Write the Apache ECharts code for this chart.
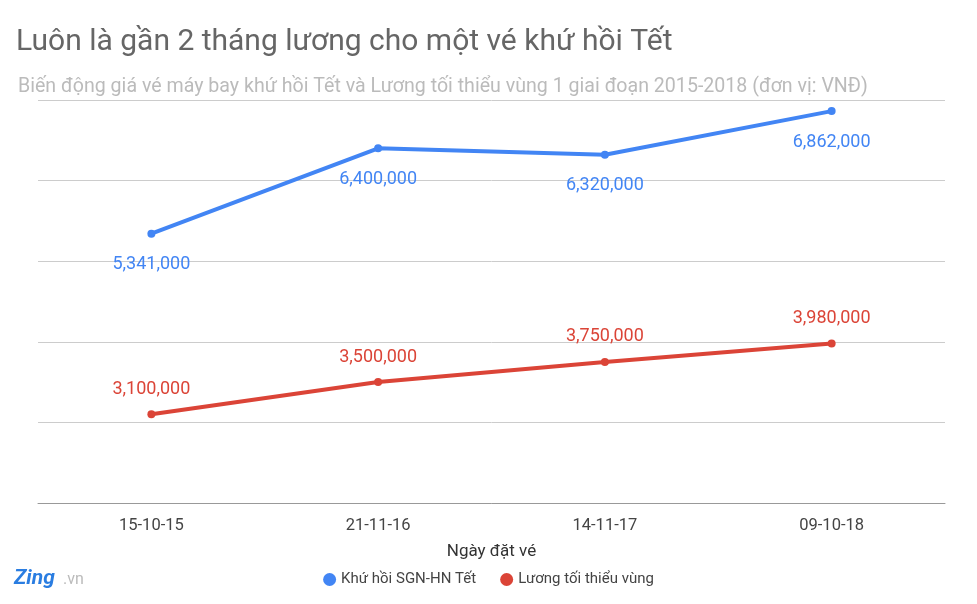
<!DOCTYPE html>
<html><head><meta charset="utf-8">
<script src="https://cdn.jsdelivr.net/npm/echarts@6/dist/echarts.min.js"></script>
<style>html,body{margin:0;padding:0;background:#fff}#c{width:977px;height:604px}</style>
</head><body><div id="c"></div>
<script>
var categories = ['15-10-15', '21-11-16', '14-11-17', '09-10-18'];
var ticketPrices = [5341000, 6400000, 6320000, 6862000];
var minWages = [3100000, 3500000, 3750000, 3980000];
var seriesNames = ['Khứ hồi SGN-HN Tết', 'Lương tối thiểu vùng'];

function fmt(v) { return String(v).replace(/\B(?=(\d{3})+(?!\d))/g, ','); }

var chart = echarts.init(document.getElementById('c'));
chart.setOption({
  title: [
    { text: 'Luôn là gần 2 tháng lương cho một vé khứ hồi Tết', left: 11, top: 22,
      textStyle: { fontFamily: 'Roboto', fontSize: 30, fontWeight: 'normal', color: '#666' } },
    { text: 'Biến động giá vé máy bay khứ hồi Tết và Lương tối thiểu vùng 1 giai đoạn 2015-2018 (đơn vị: VNĐ)', left: 13, top: 72,
      textStyle: { fontFamily: 'Roboto', fontSize: 19.6, fontWeight: 'normal', color: '#bbb' } }
  ],
  graphic: [
    { type: 'text', left: 14, top: 568, style: { text: 'Zing', fill: '#2a7de1', font: 'bold italic 21px Roboto' } },
    { type: 'text', left: 63, top: 572, style: { text: '.vn', fill: '#bbb', font: '16px Roboto' } }
  ],
  legend: {
    bottom: 12, left: 'center', itemWidth: 13, itemHeight: 13, icon: 'circle', itemGap: 24,
    textStyle: { fontFamily: 'Roboto', fontSize: 15, color: '#444' },
    data: seriesNames
  },
  grid: { left: 38, right: 32, top: 100, bottom: 101 },
  xAxis: {
    type: 'category', data: categories, name: 'Ngày đặt vé', nameLocation: 'middle', nameGap: 40,
    nameTextStyle: { fontFamily: 'Roboto', fontSize: 17, color: '#333' },
    axisTick: { show: false }, axisLine: { lineStyle: { color: '#999' } },
    axisLabel: { fontFamily: 'Roboto', fontSize: 16.5, color: '#444', margin: 14 }
  },
  yAxis: {
    type: 'value', min: 2000000, max: 7000000, interval: 1000000,
    axisLabel: { show: false }, splitLine: { lineStyle: { color: '#ccc' } }
  },
  series: [
    { name: seriesNames[0], type: 'line', data: ticketPrices, color: '#4285f4', symbol: 'circle', symbolSize: 8,
      lineStyle: { width: 4 },
      label: { show: true, position: 'bottom', distance: 18, formatter: function (p) { return fmt(p.value); },
        fontFamily: 'Roboto', fontSize: 18, color: '#4285f4' } },
    { name: seriesNames[1], type: 'line', data: minWages, color: '#db4437', symbol: 'circle', symbolSize: 8,
      lineStyle: { width: 4 },
      label: { show: true, position: 'top', distance: 12, formatter: function (p) { return fmt(p.value); },
        fontFamily: 'Roboto', fontSize: 18, color: '#db4437' } }
  ]
});
</script></body></html>
